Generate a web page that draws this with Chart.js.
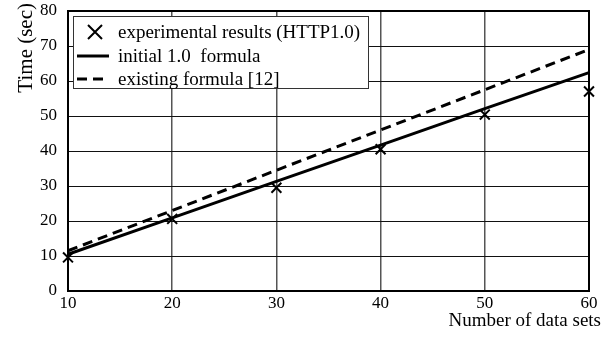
<!DOCTYPE html>
<html>
<head>
<meta charset="utf-8">
<script src="https://cdn.jsdelivr.net/npm/chart.js@4/dist/chart.umd.min.js"></script>
<style>
  html, body { margin: 0; padding: 0; background: #fff; }
  #wrap { width: 609px; height: 343px; }
</style>
</head>
<body>
<div id="wrap"><canvas id="chart" width="609" height="343"></canvas></div>
<script>
// data
const dataSets = [10, 20, 30, 40, 50, 60];
const experimental = [9.6, 20.6, 29.5, 40.5, 50.4, 57.0];
const initialFormula = [10.5, 20.9, 31.3, 41.7, 52.1, 62.4];
const existingFormula = [11.5, 23.0, 34.5, 46.0, 57.5, 69.0];
const xTicks = [10, 20, 30, 40, 50, 60];
const yTicks = [0, 10, 20, 30, 40, 50, 60, 70, 80];

const labels = ['experimental results (HTTP1.0)', 'initial 1.0  formula', 'existing formula [12]'];
const FONT = '"Liberation Serif", "DejaVu Serif", serif';

function toPoints(values) {
    return dataSets.map((x, i) => ({ x: x, y: values[i] }));
}

/**
 * Draws frame, boxed legend and the axis titles
 */
const framePlugin = {
    id: 'frame',
    afterDraw(chart) {
        const ctx = chart.ctx;
        const a = chart.chartArea;
        ctx.save();
        ctx.strokeStyle = '#000';
        ctx.lineWidth = 2;
        ctx.strokeRect(a.left, a.top, a.right - a.left, a.bottom - a.top);

        // legend box
        const bx = 73, by = 16, bw = 295, bh = 72;
        ctx.fillStyle = '#fff';
        ctx.fillRect(bx, by, bw, bh);
        ctx.lineWidth = 1;
        ctx.strokeStyle = '#333';
        ctx.strokeRect(bx + 0.5, by + 0.5, bw, bh);

        const rows = [32, 56, 79];
        ctx.fillStyle = '#000';
        ctx.font = '19px ' + FONT;
        ctx.textBaseline = 'middle';
        chart.data.datasets.forEach((ds, i) => {
            const y = rows[i];
            ctx.strokeStyle = '#000';
            if (i === 0) {
                ctx.lineWidth = 2;
                ctx.beginPath();
                ctx.moveTo(88, y - 7); ctx.lineTo(102, y + 7);
                ctx.moveTo(102, y - 7); ctx.lineTo(88, y + 7);
                ctx.stroke();
            } else {
                ctx.lineWidth = 3;
                ctx.setLineDash(ds.borderDash || []);
                ctx.beginPath();
                ctx.moveTo(77, y); ctx.lineTo(109, y);
                ctx.stroke();
                ctx.setLineDash([]);
            }
            ctx.fillText(ds.label, 118, y + 1);
        });

        // axis titles
        ctx.font = '19px ' + FONT;
        ctx.textAlign = 'right';
        ctx.textBaseline = 'alphabetic';
        ctx.fillText('Number of data sets', 601, 326);
        ctx.font = '21px ' + FONT;
        ctx.translate(32, 3);
        ctx.rotate(-Math.PI / 2);
        ctx.textAlign = 'right';
        ctx.fillText('Time (sec)', 0, 0);
        ctx.restore();
    }
};

const ctx = document.getElementById('chart').getContext('2d');
new Chart(ctx, {
    type: 'scatter',
    data: {
        datasets: [{
            label: labels[0],
            data: toPoints(experimental),
            pointStyle: 'crossRot',
            pointRadius: 7,
            pointBorderWidth: 2,
            borderColor: '#000',
            backgroundColor: '#000',
            showLine: false,
            clip: false
        }, {
            label: labels[1],
            data: toPoints(initialFormula),
            showLine: true,
            borderColor: '#000',
            borderWidth: 3,
            pointRadius: 0,
            clip: false
        }, {
            label: labels[2],
            data: toPoints(existingFormula),
            showLine: true,
            borderColor: '#000',
            borderWidth: 3,
            borderDash: [10, 6],
            pointRadius: 0,
            clip: false
        }]
    },
    options: {
        responsive: false,
        animation: false,
        layout: { padding: { top: 11, right: 20, left: 0, bottom: 0 } },
        plugins: {
            legend: { display: false },
            tooltip: { enabled: false }
        },
        scales: {
            x: {
                type: 'linear',
                min: xTicks[0],
                max: xTicks[xTicks.length - 1],
                afterBuildTicks: (s) => { s.ticks = xTicks.map(v => ({ value: v })); },
                afterFit: (s) => { s.height = 52; s.paddingLeft = 0; s.paddingRight = 0; },
                grid: { color: '#555', lineWidth: 1.5, drawTicks: false },
                border: { color: '#000', width: 2 },
                ticks: { color: '#000', padding: 2, font: { family: FONT, size: 17 } }
            },
            y: {
                min: yTicks[0],
                max: yTicks[yTicks.length - 1],
                afterBuildTicks: (s) => { s.ticks = yTicks.map(v => ({ value: v })); },
                afterFit: (s) => { s.width = 68; s.paddingTop = 0; s.paddingBottom = 0; },
                grid: { color: '#111', lineWidth: 1, drawTicks: false },
                border: { color: '#000', width: 2 },
                ticks: { color: '#000', padding: 11, font: { family: FONT, size: 17 } }
            }
        }
    },
    plugins: [framePlugin]
});
</script>
</body>
</html>
